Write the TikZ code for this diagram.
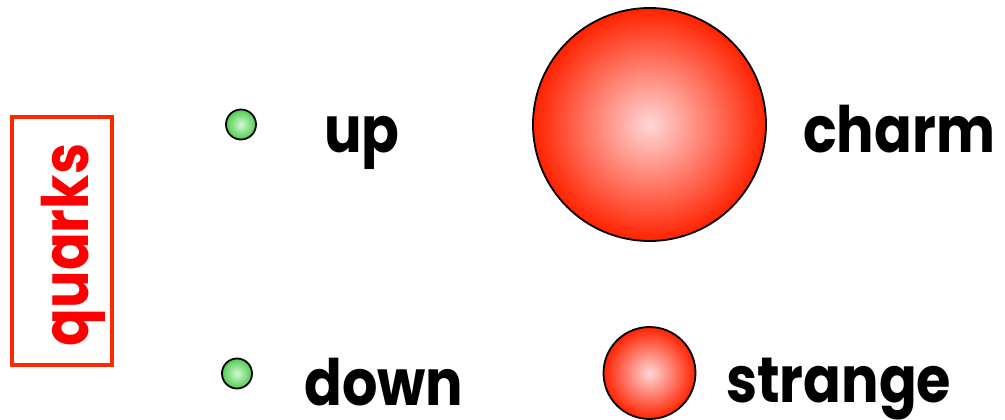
\documentclass[tikz,border=0pt]{standalone}
\usepackage{fontspec}
\setmainfont{Poppins}[FakeStretch=0.87]
\usetikzlibrary{positioning}
\definecolor{ballred}{RGB}{255,34,0}
\definecolor{ballpink}{RGB}{255,215,215}
\definecolor{ballgreen}{RGB}{80,205,80}
\definecolor{ballmint}{RGB}{210,248,210}
\definecolor{boxred}{RGB}{255,40,0}

\begin{document}
\begin{tikzpicture}[
  x=1pt,y=-1pt,
  lbl/.style={font=\fontsize{64}{64}\selectfont\bfseries,anchor=base west,inner sep=0pt},
  redq/.style={circle,draw,line width=1.8pt,shading=radial,inner color=ballpink,
    outer color=ballred,inner sep=0pt},
  greenq/.style={circle,draw,line width=1.8pt,shading=radial,inner color=ballmint,
    outer color=ballgreen,inner sep=0pt,minimum size=30pt}
]
\useasboundingbox (0,0) rectangle (1005,420);

% label box
\node[draw=boxred,line width=4pt,minimum width=100pt,minimum height=248pt] (qbox) at (62,241) {};
\node[lbl,text=red,rotate=90,anchor=base] (qlabel) at (88,245) {quarks};

% light quarks
\node[greenq] (upq) at (241,124.5) {};
\node[lbl] (uplbl) at (324,152) {up};
\node[greenq] (downq) at (237,373.5) {};
\node[lbl] (downlbl) at (304,405) {down};

% heavier quarks
\node[redq,minimum size=233pt] (charmq) at (649.5,124.5) {};
\node[lbl] (charmlbl) at (803,153) {charm};
\node[redq,minimum size=92pt] (strangeq) at (649.5,373) {};
\node[lbl] (strangelbl) at (726,402) {strange};
\end{tikzpicture}
\end{document}
